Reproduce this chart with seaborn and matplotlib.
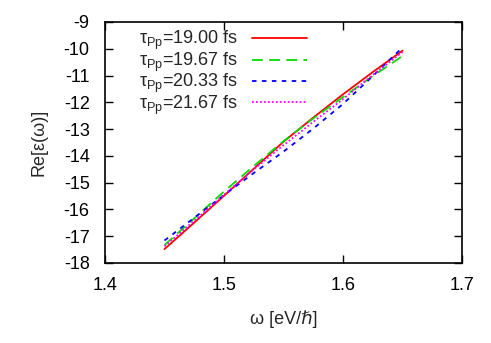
import matplotlib
matplotlib.use("Agg")
import matplotlib.pyplot as plt
import seaborn as sb
import pandas as pd

# data
omega = [1.45, 1.475, 1.50, 1.525, 1.55, 1.575, 1.60, 1.625, 1.65]
re_19_00 = [-17.48, -16.49, -15.49, -14.48, -13.47, -12.57, -11.70, -10.87, -10.07]
re_19_67 = [-17.33, -16.33, -15.33, -14.38, -13.45, -12.60, -11.80, -11.02, -10.27]
re_20_33 = [-17.16, -16.31, -15.46, -14.64, -13.84, -12.98, -12.06, -11.02, -9.95]
re_21_67 = [-17.38, -16.42, -15.45, -14.50, -13.60, -12.73, -11.88, -10.98, -10.12]
labels = ["19.00", "19.67", "20.33", "21.67"]

colors = ["#ff0000", "#00dd00", "#0000ff", "#ff00ff"]
styles = ["-", (0, (6, 3.5)), (0, (2.5, 3)), (0, (1, 1.2))]

sb.set_style("ticks")
plt.rcParams['font.family'] = ['Liberation Sans', 'DejaVu Sans']
plt.rcParams['mathtext.fontset'] = 'custom'
plt.rcParams['mathtext.rm'] = 'Liberation Sans'
plt.rcParams['mathtext.it'] = 'Liberation Sans:italic'
plt.rcParams['axes.unicode_minus'] = False

fig = plt.figure(figsize=(4.91, 3.43), dpi=100)
ax = fig.add_axes([105/491, 1-263/343, (462-105)/491, (263-22)/343])

for vals, lab, c, ls in zip([re_19_00, re_19_67, re_20_33, re_21_67], labels, colors, styles):
    df = pd.DataFrame({"omega": omega, "re": vals})
    sb.lineplot(data=df, x="omega", y="re", ax=ax, color=c, linestyle=ls,
                linewidth=1.3, label="τ" + r"$_{\mathrm{Pp}}$=" + lab + " fs")

ax.set_xlim(1.4, 1.7)
ax.set_ylim(-18, -9)
ax.set_xticks([1.4, 1.5, 1.6, 1.7])
ax.set_yticks(range(-18, -8))
ax.tick_params(direction='in', top=True, right=True, length=6, width=1,
               labelsize=13, colors='black')
ax.tick_params(axis='y', pad=11)
ax.tick_params(axis='x', pad=10)
for b in ['top', 'bottom', 'left', 'right']:
    ax.spines[b].set_linewidth(1.2)
    ax.spines[b].set_color('black')

ax.set_xlabel(r"ω [eV/ℏ]", fontsize=13, labelpad=12)
ax.set_ylabel("Re[ε(ω)]", fontsize=13, labelpad=12)

ax.legend(loc='upper left', bbox_to_anchor=(0.095, 0.97), markerfirst=False,
          frameon=False, fontsize=13, handlelength=3.0, labelspacing=-0.1,
          handletextpad=0.8, borderaxespad=0.0, borderpad=0.0)

plt.savefig("out.png", dpi=100)
